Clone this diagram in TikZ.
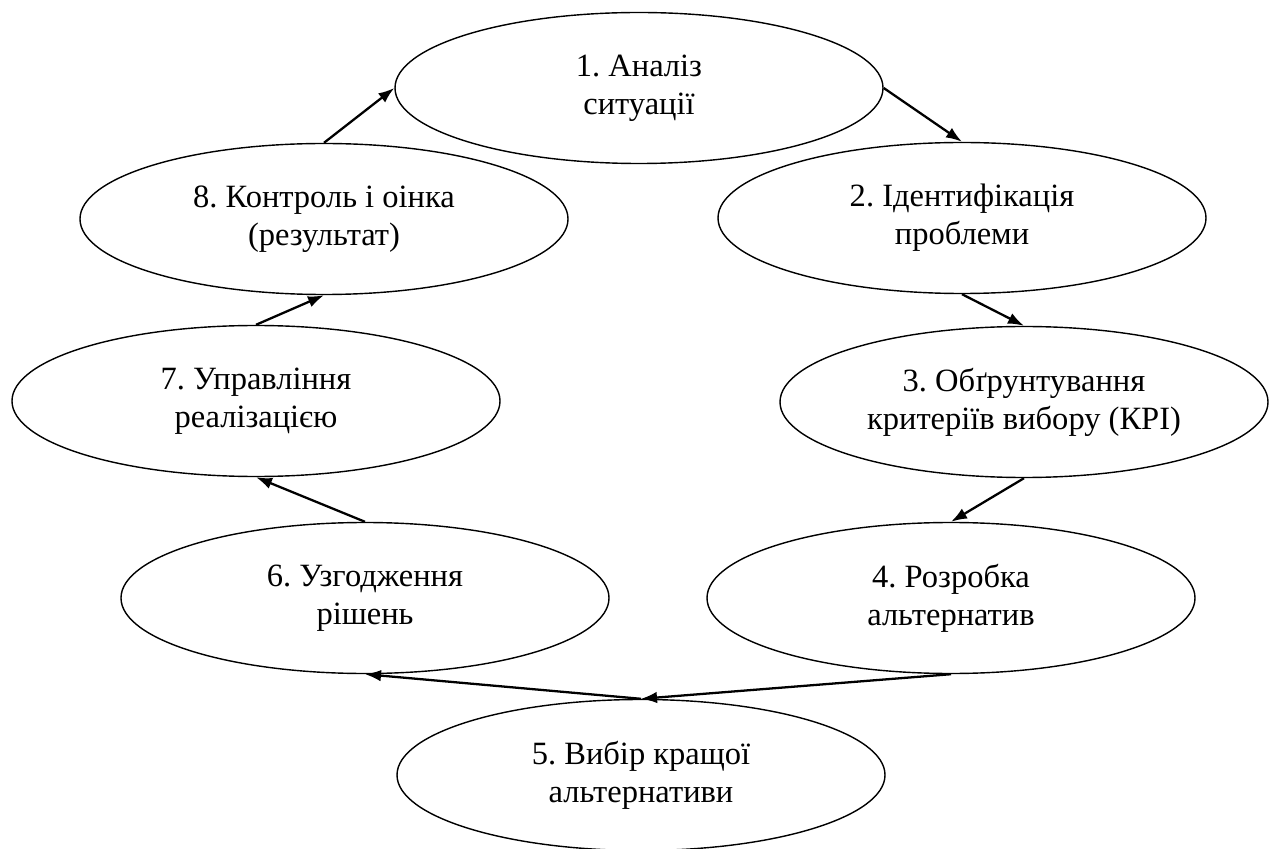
\documentclass[tikz,border=0pt]{standalone}
\usepackage{fontspec}
\setmainfont{Liberation Serif}
\usepackage{tikz}
\usetikzlibrary{shapes.geometric,arrows.meta}

\tikzset{
	stage/.style={draw,ellipse,line width=0.8pt,minimum width=9.76cm,minimum height=3.02cm,inner sep=0pt,align=center,font=\fontsize{18.5}{21.6}\selectfont},
	flow/.style={-{Latex[length=3.2mm,width=2.3mm]},line width=1.3pt}
}

\begin{document}
\frenchspacing
\begin{tikzpicture}
		\useasboundingbox (0,0) rectangle (25.6,-16.98);
		\node[stage] (analiz) at (12.78,-1.76) {1. Аналіз\\ситуації};
		\node[stage] (ident) at (19.24,-4.36) {2. Ідентифікація\\проблеми};
		\node[stage] (kryt) at (20.48,-8.04) {3. Обґрунтування\\критеріїв вибору (КРІ)};
		\node[stage] (rozrob) at (19.02,-11.96) {4. Розробка\\альтернатив};
		\node[stage] (vybir) at (12.82,-15.50) {5. Вибір кращої\\альтернативи};
		\node[stage] (uzgod) at (7.30,-11.96) {6. Узгодження\\рішень};
		\node[stage] (uprav) at (5.12,-8.02) {7. Управління\\реалізацією};
		\node[stage] (kontrol) at (6.48,-4.38) {8. Контроль і оінка\\(результат)};
		% cycle
		\draw[flow] (analiz.east) -- (ident.north);
		\draw[flow] (ident.south) -- (kryt.north);
		\draw[flow] (kryt.south) -- (rozrob.north);
		\draw[flow] (rozrob.south) -- (vybir.north);
		\draw[flow] (vybir.north) -- (uzgod.south);
		\draw[flow] (uzgod.north) -- (uprav.south);
		\draw[flow] (uprav.north) -- (kontrol.south);
		\draw[flow] (kontrol.north) -- (analiz.west);
	\end{tikzpicture}
\end{document}
